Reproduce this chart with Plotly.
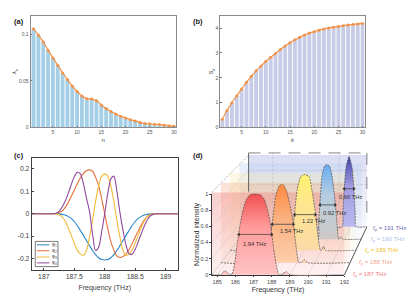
import plotly.graph_objects as go

# ---------- data ----------
n_vals = list(range(1, 31))
lambda_n = [.106,.0993,.092,.083,.0747,.0667,.0586,.0516,.0446,.0386,.0337,.0309,.0305,.0288,.0242,
            .0204,.0172,.0144,.0119,.0102,.0084,.007,.0053,.0042,.0039,.0035,.0032,.0025,.0018,.0014]
S_k = [.33,.68,1.0,1.28,1.55,1.82,2.06,2.28,2.48,2.66,2.83,2.98,3.14,3.28,3.41,3.53,3.63,3.72,3.8,3.86,
       3.92,3.97,4.01,4.04,4.07,4.1,4.13,4.15,4.17,4.19]

freq_c = [186.8,187.0,187.1,187.15,187.2,187.25,187.3,187.35,187.4,187.45,187.5,187.55,187.6,187.65,187.7,187.75,187.8,187.85,187.9,187.95,
          188.0,188.05,188.1,188.15,188.2,188.25,188.3,188.35,188.4,188.45,188.5,188.55,188.6,188.65,188.7,188.75,188.8,188.85,188.9,189.0,189.2]
phi1 = [0,0,0,0,0,-.001,-.003,-.006,-.012,-.021,-.035,-.053,-.075,-.097,-.12,-.143,-.165,-.183,-.197,-.205,
        -.207,-.205,-.197,-.183,-.165,-.143,-.12,-.097,-.075,-.053,-.035,-.021,-.012,-.006,-.003,-.001,0,0,0,0,0]
phi2 = [0,0,0,0,.001,.005,.012,.027,.05,.077,.105,.134,.16,.18,.192,.196,.19,.163,.125,.067,
        0,-.067,-.125,-.163,-.19,-.196,-.192,-.18,-.16,-.134,-.105,-.077,-.05,-.027,-.012,-.005,-.001,0,0,0,0]
phi3 = [0,0,0,0,-.001,-.005,-.014,-.033,-.062,-.096,-.132,-.163,-.18,-.187,-.165,-.105,-.03,.055,.125,.168,
        .178,.168,.125,.055,-.03,-.105,-.165,-.187,-.18,-.163,-.132,-.096,-.062,-.033,-.014,-.005,-.001,0,0,0,0]
phi4 = [0,0,0,0,.002,.01,.03,.056,.09,.13,.165,.185,.178,.135,.07,.01,-.09,-.165,-.15,-.08,
        .0,.09,.155,.168,.1,.005,-.075,-.14,-.18,-.18,-.16,-.125,-.09,-.055,-.027,-.01,-.002,0,0,0,0]
phi_names = ["φ<sub>1</sub>", "φ<sub>2</sub>", "φ<sub>3</sub>", "φ<sub>4</sub>"]

pump_freqs = [187, 188, 189, 190, 191]
spec_f = [
    [184.7,185.2,185.42,185.65,185.8,185.95,186.1,186.25,186.4,186.6,186.8,187.1,187.4,187.6,187.8,187.95,188.1,188.25,188.4,188.6,188.8,189.0,192],
    [184.7,187.2,187.4,187.6,187.8,188.0,188.2,188.4,188.6,188.8,188.95,189.1,189.25,189.43,189.6,192],
    [184.7,188.2,188.3,188.45,188.6,188.8,189.05,189.3,189.45,189.66,189.8,189.95,190.05,190.13,190.25,192],
    [184.7,189.4,189.45,189.53,189.65,189.8,189.95,190.1,190.25,190.44,190.55,190.64,190.72,190.8,190.9,192],
    [184.7,190.47,190.52,190.6,190.72,190.9,191.08,191.2,191.28,191.33,192],
]
spec_i = [
    [0,0,.05,.01,0,.12,.38,.6,.78,.93,.99,1,.99,.93,.78,.6,.34,.12,0,.01,.04,0,0],
    [0,0,.2,.5,.85,.98,1,.92,.74,.5,.2,0,.005,.04,0,0],
    [0,0,.15,.5,.8,.97,1,.97,.8,.5,.2,0,.01,.05,0,0],
    [0,0,.2,.5,.85,.98,1,.98,.85,.5,.2,0,.02,.03,0,0],
    [0,0,.2,.54,.85,1,.85,.54,.2,0,0],
]
width_f = [(186.19,188.0),(187.6,188.8),(188.45,189.66),(189.53,190.44),(190.6,191.2)]
width_h = [.5,.49,.47,.46,.54]
width_lbl = ["1.94 THz","1.54 THz","1.22 THz","0.92 THz","0.66 THz"]
width_lbl_xy = [(187.1,.38),(188.7,.40),(189.55,.38),(190.4,.35),(191.0,.42)]
d_ticks = [185,186,187,188,189,190,191,192]
d_yticks = [0,.2,.4,.6,.8,1]
d_yticktext = ["0","0.2","0.4","0.6","0.8","1"]

# ---------- geometry ----------
W, H = 415, 299
F0, F1 = 184.7, 192.0
def X(p): return p / W
def Y(p): return 1 - p / H
xl = [214.3 + 9.33 * i for i in range(5)]
sx = [18.4 - .5 * i for i in range(5)]
base = [277.3, 265, 252.3, 241, 228.3]
ht = [82.3, 80, 77.3, 76, 71.7]
def px(f, i): return xl[i] + (f - F0) * sx[i]
def py(h, i): return base[i] - h * ht[i]

fig = go.Figure()
FONT = "Liberation Sans"

# ---------- panel a ----------
fig.add_bar(x=n_vals, y=lambda_n, width=.8, marker=dict(color="#a4cfe6", line_width=0), xaxis="x", yaxis="y", showlegend=False)
fig.add_scatter(x=n_vals, y=lambda_n, mode="lines+markers", line=dict(color="#f2934a", width=1.2, shape="spline"),
                marker=dict(color="#f2934a", size=3), xaxis="x", yaxis="y", showlegend=False)
# ---------- panel b ----------
fig.add_bar(x=n_vals, y=S_k, width=.8, marker=dict(color="#c8cce6", line_width=0), xaxis="x2", yaxis="y2", showlegend=False)
fig.add_scatter(x=n_vals, y=S_k, mode="lines+markers", line=dict(color="#f2934a", width=1.2, shape="spline"),
                marker=dict(color="#f2934a", size=3), xaxis="x2", yaxis="y2", showlegend=False)
# ---------- panel c ----------
cols = ["#2b86c8", "#e2703a", "#f2bc3c", "#8f4a9f"]
for vals, c, nm in zip([phi1, phi2, phi3, phi4], cols, phi_names):
    fig.add_scatter(x=freq_c, y=vals, mode="lines", line=dict(color=c, width=1.1, shape="spline", smoothing=.8),
                    name=nm, xaxis="x3", yaxis="y3", showlegend=False)

# ---------- panel d : planes, back to front ----------
plane_cols = ["240,120,120", "245,170,130", "250,235,170", "175,205,240", "165,170,225"]
plane_alpha = [.36, .34, .34, .32, .40]
dx = dict(xaxis="x5", yaxis="y5", showlegend=False, hoverinfo="skip")
for i in range(4, -1, -1):
    xs = [px(F0, i), px(F1, i), px(F1, i), px(F0, i), px(F0, i)]
    ys = [py(1.02, i), py(1.02, i), py(0, i), py(0, i), py(1.02, i)]
    c = plane_cols[i]
    fig.add_scatter(x=xs, y=ys, mode="lines", line=dict(width=0), fill="toself",
                    fillgradient=dict(type="vertical", colorscale=[[0, f"rgba({c},.1)"], [1, f"rgba({c},{plane_alpha[i]})"]]), **dx)

def seg(x0, y0, x1, y1, color="#999999", width=.6, dash="solid"):
    fig.add_scatter(x=[x0, x1], y=[y0, y1], mode="lines", line=dict(color=color, width=width, dash=dash), **dx)

# wire-frame on back wall and floor
for f in d_ticks:
    seg(px(f, 0), py(0, 0), px(f, 4), py(0, 4), "#c4bcbc", .4)
for h in [.2, .4, .6, .8]:
    seg(px(F0, 0), py(h, 0), px(F0, 4), py(h, 4), "#c8c0c0", .4)
seg(px(F0, 0), py(1.02, 0), px(F0, 4), py(1.02, 4), "#888888", .6, "2px 1.5px")
seg(px(F0, 0), py(0, 0), px(F0, 4), py(0, 4), "#aaaaaa", .4)
seg(px(F0, 4), py(1.05, 4), px(F0, 4), py(.5, 4), "#444444", .8)
seg(px(F0, 4), py(1.05, 4), px(F1, 4), py(1.05, 4), "#333333", .6, "12px 8px")
seg(px(F1, 4), py(1.05, 4), px(F1, 4), py(.2, 4), "#333333", .6, "12px 12px")
seg(px(186.2, 4), py(1.05, 4), px(186.2, 4), py(.3, 4), "#aaaaaa", .5, "2px 2px")
seg(px(190.3, 4), py(1.05, 4), px(190.3, 4), py(.3, 4), "#aaaaaa", .5, "2px 2px")
seg(px(F0, 4), py(.8, 4), px(F1, 4), py(.8, 4), "#aaaaaa", .5, "2px 2px")
seg(px(F0, 4), py(.6, 4), px(F1, 4), py(.6, 4), "#aaaaaa", .5, "2px 2px")

top_c = ["#f14f50", "#ff8a3f", "#fff26e", "#69aef2", "#4343a6"]
mid_c = ["#ff9a9a", "#fbae7c", "#fde690", "#b5cde0", "#a09ae0"]
bot_c = ["#ffc4c4", "#fcd0ad", "#fbd9a8", "#cfc9c4", "#bdbcf2"]
for i in range(4, -1, -1):
    xs = [px(f, i) for f in spec_f[i]]
    ys = [py(v, i) for v in spec_i[i]]
    # fill + outline
    fig.add_scatter(x=xs, y=ys, mode="lines", line=dict(color="#4a4a4a", width=.7, dash="2px 1px", shape="spline", smoothing=.5),
                    fill="toself", fillgradient=dict(type="vertical", colorscale=[[0, bot_c[i]], [.6, mid_c[i]], [1, top_c[i]]]), **dx)
    # width arrow
    f0, f1 = width_f[i]
    yy = py(width_h[i], i)
    fig.add_scatter(x=[px(f0, i), px(f1, i)], y=[yy, yy], mode="lines+markers",
                    line=dict(color="#444444", width=.8),
                    marker=dict(symbol=["triangle-left", "triangle-right"], size=3.5, color="#333333"), **dx)
    fl, hl = width_lbl_xy[i]
    fig.add_annotation(x=px(fl, i), y=py(hl, i), xref="x5", yref="y5", text=width_lbl[i], showarrow=False,
                       font=dict(family=FONT, size=5.8, color="#333333"))

# floor right edge
seg(px(F1, 0), py(0, 0), px(F1, 4), py(0, 4), "#333333", .8)
fp_cols = ["#f08080", "#f5a392", "#f2c21f", "#a9c3ea", "#6c6cb4"]
fp_pos = [(355, 277.3), (361, 264.5), (367, 252.7), (373, 241), (376, 230)]
for p, c, (lx, ly) in zip(pump_freqs, fp_cols, fp_pos):
    fig.add_annotation(x=lx, y=ly, xref="x5", yref="y5", xanchor="left", text=f"<i>f</i><sub>p</sub> = {p} THz",
                       showarrow=False, font=dict(family=FONT, size=6, color=c))

# front axes of panel d (real tick labels)
fig.add_scatter(x=[F0, F1], y=[0, 1], mode="markers", marker=dict(opacity=0), xaxis="x4", yaxis="y4", showlegend=False, hoverinfo="skip")

# legend box of panel c
lx0, lx1, ly0, ly1 = 35.7, 58.7, 243.3, 269
fig.add_shape(type="rect", xref="paper", yref="paper", x0=X(lx0), x1=X(lx1), y0=Y(ly1), y1=Y(ly0),
              line=dict(color="#404040", width=.7), fillcolor="white", layer="above")
for c, nm, ry in zip(cols, phi_names, [246.8, 252.8, 259.2, 265.2]):
    fig.add_shape(type="line", xref="paper", yref="paper", x0=X(37.3), x1=X(50), y0=Y(ry), y1=Y(ry),
                  line=dict(color=c, width=1), layer="above")
    fig.add_annotation(xref="paper", yref="paper", x=X(51), y=Y(ry), xanchor="left", yanchor="middle", text=nm,
                       showarrow=False, font=dict(family=FONT, size=4.5, color="#333333"))

# panel labels
for t, lx, ly in [("(a)", 12, 12), ("(b)", 200, 12), ("(c)", 12, 156), ("(d)", 200, 156)]:
    fig.add_annotation(xref="paper", yref="paper", x=X(lx), y=Y(ly), text=f"<b>{t}</b>", showarrow=False,
                       font=dict(family=FONT, size=7.5, color="#222222"))

def ax(l, r, **k):
    return dict(domain=[X(l), X(r)], **k)
def ay(t, b, **k):
    return dict(domain=[Y(b), Y(t)], **k)
tickf = dict(family=FONT, size=5, color="#555555")
frame = dict(showline=True, mirror=True, linecolor="#8a8a8a", linewidth=1, showgrid=False, zeroline=False,
             ticks="inside", ticklen=1.5, tickcolor="#777777", tickwidth=.6, tickfont=tickf)
cf = dict(family=FONT, size=6.8, color="#404040")
framec = dict(showline=True, mirror=True, linecolor="#404040", linewidth=.8, showgrid=False, zeroline=False,
              ticks="inside", ticklen=2, tickcolor="#404040", tickwidth=.6, tickfont=cf)
tf = dict(family=FONT, size=6, color="#444444")

fig.update_layout(
    width=W, height=H, autosize=False, margin=dict(l=0, r=0, t=0, b=0),
    paper_bgcolor="white", plot_bgcolor="rgba(0,0,0,0)", showlegend=False, bargap=.2,
    font=dict(family=FONT),
    xaxis=ax(31, 178, anchor="y", range=[.4, 30.4], tickvals=[5,10,15,20,25,30], title=dict(text="n", font=tf, standoff=3), **frame),
    yaxis=ay(13, 127, anchor="x", range=[0, .12], tickvals=[0,.05,.1], ticktext=["0","0.05","0.1"],
             title=dict(text="<i>λ<sub>n</sub></i>", font=tf, standoff=1), **frame),
    xaxis2=ax(223, 369, anchor="y2", range=[.6, 30.4], tickvals=[5,10,15,20,25,30], title=dict(text="<i>k</i>", font=tf, standoff=3), **frame),
    yaxis2=ay(13, 127, anchor="x2", range=[0, 4.5], tickvals=[0,1,2,3,4],
              title=dict(text="<i>S<sub>k</sub></i>", font=tf, standoff=0), **frame),
    xaxis3=ax(32, 180, anchor="y3", range=[186.8, 189.2], tickvals=[187,187.5,188,188.5,189],
              ticktext=["187","187.5","188","188.5","189"],
              title=dict(text="Frequency (THz)", font=dict(family=FONT, size=7, color="#404040"), standoff=6), **framec),
    yaxis3=ay(158, 272, anchor="x3", range=[-.25, .25], tickvals=[-.2,-.1,0,.1,.2], ticktext=["-0.2","-0.1","0","0.1","0.2"], **framec),
    xaxis4=dict(domain=[X(px(F0,0)), X(px(F1,0))], anchor="y4", range=[F0, F1], tickvals=d_ticks, ticks="outside", ticklen=1.5,
                tickcolor="#444444", tickwidth=.6, showline=True, linecolor="#333333", linewidth=.8, showgrid=False, zeroline=False,
                tickfont=dict(family=FONT, size=5.5, color="#444444"),
                title=dict(text="Frequency (THz)", font=dict(family=FONT, size=7, color="#333333"), standoff=3)),
    yaxis4=dict(domain=[Y(base[0]), Y(base[0]-ht[0])], anchor="x4", range=[0, 1], tickvals=d_yticks, ticktext=d_yticktext, ticks="outside", ticklen=1.5,
                tickcolor="#444444", tickwidth=.6, showline=True, linecolor="#333333", linewidth=.8, showgrid=False, zeroline=False,
                tickfont=dict(family=FONT, size=5.5, color="#444444"),
                title=dict(text="Normalized intensity", font=dict(family=FONT, size=7, color="#333333"), standoff=0)),
    xaxis5=dict(domain=[0, 1], anchor="y5", range=[0, W], visible=False),
    yaxis5=dict(domain=[0, 1], anchor="x5", range=[H, 0], visible=False),
)
fig.write_html("out.html", config=dict(displayModeBar=False),
               post_script="document.body.style.margin='0';document.body.style.overflow='hidden';")
